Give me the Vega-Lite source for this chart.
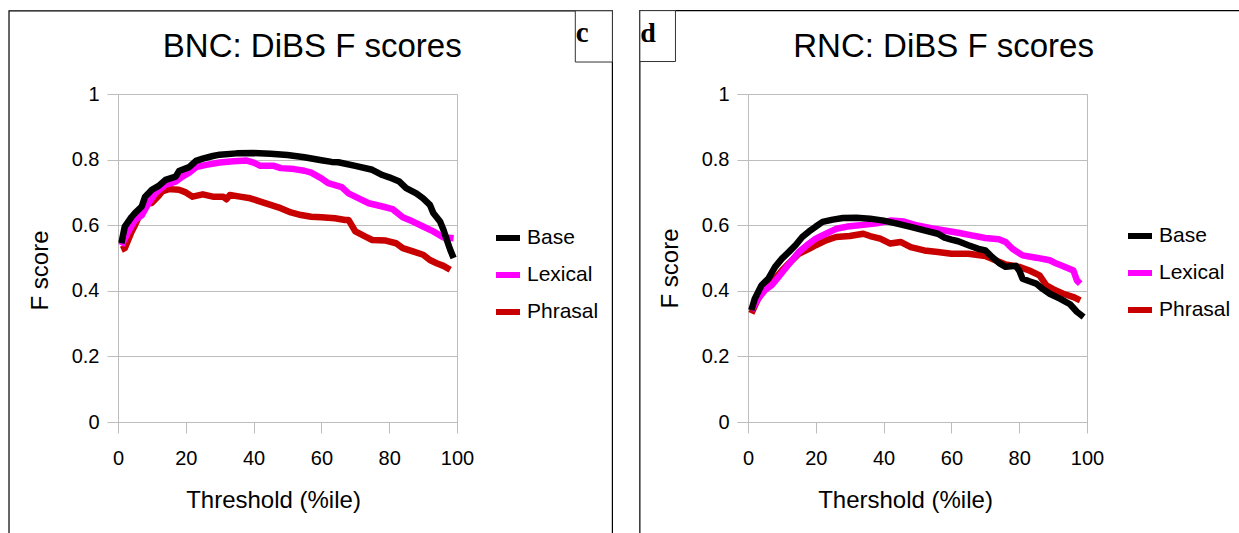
{
  "$schema": "https://vega.github.io/schema/vega-lite/v6.json",
  "autosize": {"type": "pad"},
  "padding": {"left": 7, "top": 9, "right": 0, "bottom": 0},
  "background": "white",
  "spacing": 291,
  "bounds": "flush",
  "datasets": {
    "bnc": [
      {"series": "Base", "threshold": 1, "fscore": 0.545},
      {"series": "Base", "threshold": 2, "fscore": 0.596},
      {"series": "Base", "threshold": 4, "fscore": 0.625},
      {"series": "Base", "threshold": 5, "fscore": 0.637},
      {"series": "Base", "threshold": 7, "fscore": 0.657},
      {"series": "Base", "threshold": 8, "fscore": 0.687},
      {"series": "Base", "threshold": 10, "fscore": 0.708},
      {"series": "Base", "threshold": 12, "fscore": 0.72},
      {"series": "Base", "threshold": 14, "fscore": 0.738},
      {"series": "Base", "threshold": 17, "fscore": 0.748},
      {"series": "Base", "threshold": 18, "fscore": 0.765},
      {"series": "Base", "threshold": 21, "fscore": 0.777},
      {"series": "Base", "threshold": 23, "fscore": 0.796},
      {"series": "Base", "threshold": 25, "fscore": 0.803},
      {"series": "Base", "threshold": 28, "fscore": 0.811},
      {"series": "Base", "threshold": 30, "fscore": 0.815},
      {"series": "Base", "threshold": 35, "fscore": 0.819},
      {"series": "Base", "threshold": 40, "fscore": 0.82},
      {"series": "Base", "threshold": 45, "fscore": 0.818},
      {"series": "Base", "threshold": 50, "fscore": 0.814},
      {"series": "Base", "threshold": 55, "fscore": 0.807},
      {"series": "Base", "threshold": 60, "fscore": 0.798},
      {"series": "Base", "threshold": 63, "fscore": 0.793},
      {"series": "Base", "threshold": 65, "fscore": 0.792},
      {"series": "Base", "threshold": 70, "fscore": 0.781},
      {"series": "Base", "threshold": 75, "fscore": 0.769},
      {"series": "Base", "threshold": 78, "fscore": 0.753},
      {"series": "Base", "threshold": 80, "fscore": 0.746},
      {"series": "Base", "threshold": 83, "fscore": 0.733},
      {"series": "Base", "threshold": 85, "fscore": 0.713},
      {"series": "Base", "threshold": 88, "fscore": 0.697},
      {"series": "Base", "threshold": 90, "fscore": 0.682},
      {"series": "Base", "threshold": 92, "fscore": 0.662},
      {"series": "Base", "threshold": 93, "fscore": 0.637},
      {"series": "Base", "threshold": 95, "fscore": 0.611},
      {"series": "Base", "threshold": 96, "fscore": 0.586},
      {"series": "Base", "threshold": 97, "fscore": 0.555},
      {"series": "Base", "threshold": 98, "fscore": 0.525},
      {"series": "Base", "threshold": 99, "fscore": 0.5},
      {"series": "Lexical", "threshold": 1, "fscore": 0.538},
      {"series": "Lexical", "threshold": 3, "fscore": 0.58},
      {"series": "Lexical", "threshold": 5, "fscore": 0.616},
      {"series": "Lexical", "threshold": 7, "fscore": 0.63},
      {"series": "Lexical", "threshold": 9, "fscore": 0.667},
      {"series": "Lexical", "threshold": 11, "fscore": 0.697},
      {"series": "Lexical", "threshold": 14, "fscore": 0.723},
      {"series": "Lexical", "threshold": 17, "fscore": 0.733},
      {"series": "Lexical", "threshold": 19, "fscore": 0.748},
      {"series": "Lexical", "threshold": 21, "fscore": 0.76},
      {"series": "Lexical", "threshold": 23, "fscore": 0.777},
      {"series": "Lexical", "threshold": 26, "fscore": 0.784},
      {"series": "Lexical", "threshold": 30, "fscore": 0.791},
      {"series": "Lexical", "threshold": 34, "fscore": 0.795},
      {"series": "Lexical", "threshold": 38, "fscore": 0.797},
      {"series": "Lexical", "threshold": 40, "fscore": 0.791},
      {"series": "Lexical", "threshold": 42, "fscore": 0.781},
      {"series": "Lexical", "threshold": 46, "fscore": 0.781},
      {"series": "Lexical", "threshold": 48, "fscore": 0.774},
      {"series": "Lexical", "threshold": 52, "fscore": 0.771},
      {"series": "Lexical", "threshold": 55, "fscore": 0.766},
      {"series": "Lexical", "threshold": 57, "fscore": 0.76},
      {"series": "Lexical", "threshold": 60, "fscore": 0.743},
      {"series": "Lexical", "threshold": 62, "fscore": 0.728},
      {"series": "Lexical", "threshold": 66, "fscore": 0.716},
      {"series": "Lexical", "threshold": 68, "fscore": 0.697},
      {"series": "Lexical", "threshold": 71, "fscore": 0.682},
      {"series": "Lexical", "threshold": 74, "fscore": 0.667},
      {"series": "Lexical", "threshold": 78, "fscore": 0.657},
      {"series": "Lexical", "threshold": 81, "fscore": 0.649},
      {"series": "Lexical", "threshold": 84, "fscore": 0.624},
      {"series": "Lexical", "threshold": 87, "fscore": 0.611},
      {"series": "Lexical", "threshold": 90, "fscore": 0.596},
      {"series": "Lexical", "threshold": 93, "fscore": 0.581},
      {"series": "Lexical", "threshold": 96, "fscore": 0.563},
      {"series": "Lexical", "threshold": 99, "fscore": 0.56},
      {"series": "Phrasal", "threshold": 1, "fscore": 0.525},
      {"series": "Phrasal", "threshold": 2, "fscore": 0.53},
      {"series": "Phrasal", "threshold": 4, "fscore": 0.58},
      {"series": "Phrasal", "threshold": 5, "fscore": 0.6},
      {"series": "Phrasal", "threshold": 7, "fscore": 0.645},
      {"series": "Phrasal", "threshold": 9, "fscore": 0.667},
      {"series": "Phrasal", "threshold": 10, "fscore": 0.668},
      {"series": "Phrasal", "threshold": 12, "fscore": 0.69},
      {"series": "Phrasal", "threshold": 13, "fscore": 0.703},
      {"series": "Phrasal", "threshold": 15, "fscore": 0.71},
      {"series": "Phrasal", "threshold": 18, "fscore": 0.708},
      {"series": "Phrasal", "threshold": 20, "fscore": 0.7},
      {"series": "Phrasal", "threshold": 22, "fscore": 0.687},
      {"series": "Phrasal", "threshold": 25, "fscore": 0.694},
      {"series": "Phrasal", "threshold": 28, "fscore": 0.687},
      {"series": "Phrasal", "threshold": 31, "fscore": 0.687},
      {"series": "Phrasal", "threshold": 32, "fscore": 0.679},
      {"series": "Phrasal", "threshold": 33, "fscore": 0.692},
      {"series": "Phrasal", "threshold": 36, "fscore": 0.687},
      {"series": "Phrasal", "threshold": 39, "fscore": 0.682},
      {"series": "Phrasal", "threshold": 42, "fscore": 0.672},
      {"series": "Phrasal", "threshold": 45, "fscore": 0.662},
      {"series": "Phrasal", "threshold": 48, "fscore": 0.652},
      {"series": "Phrasal", "threshold": 51, "fscore": 0.639},
      {"series": "Phrasal", "threshold": 54, "fscore": 0.631},
      {"series": "Phrasal", "threshold": 57, "fscore": 0.626},
      {"series": "Phrasal", "threshold": 60, "fscore": 0.624},
      {"series": "Phrasal", "threshold": 64, "fscore": 0.621},
      {"series": "Phrasal", "threshold": 67, "fscore": 0.616},
      {"series": "Phrasal", "threshold": 68, "fscore": 0.616},
      {"series": "Phrasal", "threshold": 70, "fscore": 0.581},
      {"series": "Phrasal", "threshold": 73, "fscore": 0.565},
      {"series": "Phrasal", "threshold": 75, "fscore": 0.555},
      {"series": "Phrasal", "threshold": 79, "fscore": 0.553},
      {"series": "Phrasal", "threshold": 82, "fscore": 0.545},
      {"series": "Phrasal", "threshold": 84, "fscore": 0.53},
      {"series": "Phrasal", "threshold": 87, "fscore": 0.52},
      {"series": "Phrasal", "threshold": 90, "fscore": 0.51},
      {"series": "Phrasal", "threshold": 92, "fscore": 0.494},
      {"series": "Phrasal", "threshold": 94, "fscore": 0.484},
      {"series": "Phrasal", "threshold": 96, "fscore": 0.476},
      {"series": "Phrasal", "threshold": 98, "fscore": 0.464}
    ],
    "rnc": [
      {"series": "Base", "threshold": 1, "fscore": 0.341},
      {"series": "Base", "threshold": 2, "fscore": 0.376},
      {"series": "Base", "threshold": 4, "fscore": 0.417},
      {"series": "Base", "threshold": 6, "fscore": 0.437},
      {"series": "Base", "threshold": 8, "fscore": 0.473},
      {"series": "Base", "threshold": 10, "fscore": 0.498},
      {"series": "Base", "threshold": 12, "fscore": 0.518},
      {"series": "Base", "threshold": 14, "fscore": 0.539},
      {"series": "Base", "threshold": 16, "fscore": 0.564},
      {"series": "Base", "threshold": 18, "fscore": 0.581},
      {"series": "Base", "threshold": 20, "fscore": 0.596},
      {"series": "Base", "threshold": 22, "fscore": 0.61},
      {"series": "Base", "threshold": 25, "fscore": 0.617},
      {"series": "Base", "threshold": 28, "fscore": 0.622},
      {"series": "Base", "threshold": 32, "fscore": 0.623},
      {"series": "Base", "threshold": 36, "fscore": 0.62},
      {"series": "Base", "threshold": 40, "fscore": 0.614},
      {"series": "Base", "threshold": 44, "fscore": 0.605},
      {"series": "Base", "threshold": 48, "fscore": 0.595},
      {"series": "Base", "threshold": 52, "fscore": 0.584},
      {"series": "Base", "threshold": 56, "fscore": 0.574},
      {"series": "Base", "threshold": 58, "fscore": 0.562},
      {"series": "Base", "threshold": 60, "fscore": 0.556},
      {"series": "Base", "threshold": 62, "fscore": 0.551},
      {"series": "Base", "threshold": 65, "fscore": 0.539},
      {"series": "Base", "threshold": 68, "fscore": 0.528},
      {"series": "Base", "threshold": 70, "fscore": 0.523},
      {"series": "Base", "threshold": 72, "fscore": 0.503},
      {"series": "Base", "threshold": 74, "fscore": 0.485},
      {"series": "Base", "threshold": 76, "fscore": 0.473},
      {"series": "Base", "threshold": 79, "fscore": 0.476},
      {"series": "Base", "threshold": 80, "fscore": 0.462},
      {"series": "Base", "threshold": 81, "fscore": 0.437},
      {"series": "Base", "threshold": 83, "fscore": 0.429},
      {"series": "Base", "threshold": 85, "fscore": 0.422},
      {"series": "Base", "threshold": 87, "fscore": 0.405},
      {"series": "Base", "threshold": 89, "fscore": 0.391},
      {"series": "Base", "threshold": 92, "fscore": 0.376},
      {"series": "Base", "threshold": 95, "fscore": 0.359},
      {"series": "Base", "threshold": 97, "fscore": 0.336},
      {"series": "Base", "threshold": 99, "fscore": 0.32},
      {"series": "Lexical", "threshold": 1, "fscore": 0.34},
      {"series": "Lexical", "threshold": 3, "fscore": 0.376},
      {"series": "Lexical", "threshold": 5, "fscore": 0.402},
      {"series": "Lexical", "threshold": 7, "fscore": 0.417},
      {"series": "Lexical", "threshold": 9, "fscore": 0.442},
      {"series": "Lexical", "threshold": 11, "fscore": 0.468},
      {"series": "Lexical", "threshold": 13, "fscore": 0.493},
      {"series": "Lexical", "threshold": 15, "fscore": 0.518},
      {"series": "Lexical", "threshold": 18, "fscore": 0.544},
      {"series": "Lexical", "threshold": 20, "fscore": 0.559},
      {"series": "Lexical", "threshold": 23, "fscore": 0.574},
      {"series": "Lexical", "threshold": 26, "fscore": 0.589},
      {"series": "Lexical", "threshold": 30, "fscore": 0.597},
      {"series": "Lexical", "threshold": 34, "fscore": 0.601},
      {"series": "Lexical", "threshold": 38, "fscore": 0.606},
      {"series": "Lexical", "threshold": 42, "fscore": 0.614},
      {"series": "Lexical", "threshold": 46, "fscore": 0.611},
      {"series": "Lexical", "threshold": 50, "fscore": 0.599},
      {"series": "Lexical", "threshold": 54, "fscore": 0.591},
      {"series": "Lexical", "threshold": 58, "fscore": 0.584},
      {"series": "Lexical", "threshold": 62, "fscore": 0.577},
      {"series": "Lexical", "threshold": 66, "fscore": 0.569},
      {"series": "Lexical", "threshold": 70, "fscore": 0.561},
      {"series": "Lexical", "threshold": 74, "fscore": 0.557},
      {"series": "Lexical", "threshold": 76, "fscore": 0.549},
      {"series": "Lexical", "threshold": 78, "fscore": 0.528},
      {"series": "Lexical", "threshold": 81, "fscore": 0.508},
      {"series": "Lexical", "threshold": 85, "fscore": 0.501},
      {"series": "Lexical", "threshold": 89, "fscore": 0.493},
      {"series": "Lexical", "threshold": 91, "fscore": 0.483},
      {"series": "Lexical", "threshold": 93, "fscore": 0.475},
      {"series": "Lexical", "threshold": 96, "fscore": 0.462},
      {"series": "Lexical", "threshold": 97, "fscore": 0.432},
      {"series": "Lexical", "threshold": 98, "fscore": 0.422},
      {"series": "Phrasal", "threshold": 1, "fscore": 0.331},
      {"series": "Phrasal", "threshold": 3, "fscore": 0.376},
      {"series": "Phrasal", "threshold": 5, "fscore": 0.409},
      {"series": "Phrasal", "threshold": 8, "fscore": 0.437},
      {"series": "Phrasal", "threshold": 10, "fscore": 0.462},
      {"series": "Phrasal", "threshold": 12, "fscore": 0.483},
      {"series": "Phrasal", "threshold": 15, "fscore": 0.513},
      {"series": "Phrasal", "threshold": 18, "fscore": 0.528},
      {"series": "Phrasal", "threshold": 20, "fscore": 0.539},
      {"series": "Phrasal", "threshold": 23, "fscore": 0.554},
      {"series": "Phrasal", "threshold": 26, "fscore": 0.564},
      {"series": "Phrasal", "threshold": 30, "fscore": 0.567},
      {"series": "Phrasal", "threshold": 34, "fscore": 0.574},
      {"series": "Phrasal", "threshold": 36, "fscore": 0.567},
      {"series": "Phrasal", "threshold": 39, "fscore": 0.559},
      {"series": "Phrasal", "threshold": 42, "fscore": 0.544},
      {"series": "Phrasal", "threshold": 45, "fscore": 0.549},
      {"series": "Phrasal", "threshold": 48, "fscore": 0.533},
      {"series": "Phrasal", "threshold": 52, "fscore": 0.523},
      {"series": "Phrasal", "threshold": 56, "fscore": 0.518},
      {"series": "Phrasal", "threshold": 60, "fscore": 0.513},
      {"series": "Phrasal", "threshold": 65, "fscore": 0.513},
      {"series": "Phrasal", "threshold": 70, "fscore": 0.506},
      {"series": "Phrasal", "threshold": 73, "fscore": 0.493},
      {"series": "Phrasal", "threshold": 76, "fscore": 0.48},
      {"series": "Phrasal", "threshold": 80, "fscore": 0.473},
      {"series": "Phrasal", "threshold": 83, "fscore": 0.462},
      {"series": "Phrasal", "threshold": 86, "fscore": 0.447},
      {"series": "Phrasal", "threshold": 88, "fscore": 0.417},
      {"series": "Phrasal", "threshold": 90, "fscore": 0.405},
      {"series": "Phrasal", "threshold": 93, "fscore": 0.391},
      {"series": "Phrasal", "threshold": 96, "fscore": 0.381},
      {"series": "Phrasal", "threshold": 98, "fscore": 0.371}
    ]
  },
  "hconcat": [
    {
      "width": 339,
      "height": 328,
      "layer": [
        {
          "data": {"values": [{}]},
          "mark": {"type": "rect", "fill": "transparent", "stroke": "#000000", "strokeWidth": 1.2, "clip": false},
          "encoding": {
            "x": {"datum": -32.15, "type": "quantitative"},
            "x2": {"datum": 145.84},
            "y": {"datum": 1.2537, "type": "quantitative"},
            "y2": {"datum": -0.6}
          }
        },
        {
          "data": {"values": [{}]},
          "mark": {"type": "rect", "fill": "white", "stroke": "#333333", "strokeWidth": 1, "clip": false},
          "encoding": {
            "x": {"datum": 134.9, "type": "quantitative"},
            "x2": {"datum": 145.84},
            "y": {"datum": 1.2537, "type": "quantitative"},
            "y2": {"datum": 1.0975}
          }
        },
        {
          "data": {"values": [{}]},
          "mark": {"type": "text", "text": "c", "font": "Liberation Serif", "fontWeight": "bold", "fontSize": 29, "align": "left", "baseline": "alphabetic", "color": "#000000", "clip": false},
          "encoding": {
            "x": {"datum": 135.0, "type": "quantitative"},
            "y": {"datum": 1.1584, "type": "quantitative"}
          }
        },
        {
          "data": {"values": [{}]},
          "mark": {"type": "text", "text": "BNC: DiBS F scores", "font": "Liberation Sans", "fontSize": 33, "align": "center", "baseline": "alphabetic", "color": "#000000", "clip": false},
          "encoding": {
            "x": {"datum": 57.3, "type": "quantitative"},
            "y": {"datum": 1.1127, "type": "quantitative"}
          }
        },
        {
          "data": {"name": "bnc"},
          "transform": [{"filter": "datum.series === 'Phrasal'"}],
          "mark": {"type": "line", "strokeWidth": 6.5, "strokeJoin": "round"},
          "encoding": {
            "x": {"field": "threshold", "type": "quantitative", "scale": {"domain": [0, 100], "nice": false, "zero": false},
              "axis": {"values": [0, 20, 40, 60, 80, 100], "grid": false, "title": "Threshold (%ile)", "titleX": 155, "titleY": 85, "titleBaseline": "alphabetic", "titleAlign": "center", "labelPadding": 15}},
            "y": {"field": "fscore", "type": "quantitative", "scale": {"domain": [0, 1], "nice": false},
              "axis": {"values": [0, 0.2, 0.4, 0.6, 0.8, 1], "format": "~g", "grid": true, "title": "F score", "titleX": -78, "titleY": 176, "titleAlign": "center", "titleBaseline": "middle", "labelPadding": 8}},
            "color": {"field": "series", "type": "nominal", "scale": {"domain": ["Base", "Lexical", "Phrasal"], "range": ["#000000", "#FF00FF", "#C80000"]},
              "legend": {"orient": "none", "legendX": 375, "legendY": 129}}
          }
        },
        {
          "data": {"name": "bnc"},
          "transform": [{"filter": "datum.series === 'Lexical'"}],
          "mark": {"type": "line", "strokeWidth": 6.5, "strokeJoin": "round"},
          "encoding": {
            "x": {"field": "threshold", "type": "quantitative"},
            "y": {"field": "fscore", "type": "quantitative"},
            "color": {"field": "series", "type": "nominal"}
          }
        },
        {
          "data": {"name": "bnc"},
          "transform": [{"filter": "datum.series === 'Base'"}],
          "mark": {"type": "line", "strokeWidth": 6.5, "strokeJoin": "round"},
          "encoding": {
            "x": {"field": "threshold", "type": "quantitative"},
            "y": {"field": "fscore", "type": "quantitative"},
            "color": {"field": "series", "type": "nominal"}
          }
        }
      ]
    },
    {
      "width": 339,
      "height": 328,
      "layer": [
        {
          "data": {"values": [{}]},
          "mark": {"type": "rect", "fill": "transparent", "stroke": "#000000", "strokeWidth": 1.2, "clip": false},
          "encoding": {
            "x": {"datum": -31.9, "type": "quantitative"},
            "x2": {"datum": 150},
            "y": {"datum": 1.2542, "type": "quantitative"},
            "y2": {"datum": -0.6}
          }
        },
        {
          "data": {"values": [{}]},
          "mark": {"type": "rect", "fill": "white", "stroke": "#333333", "strokeWidth": 1, "clip": false},
          "encoding": {
            "x": {"datum": -31.9, "type": "quantitative"},
            "x2": {"datum": -21.4},
            "y": {"datum": 1.2542, "type": "quantitative"},
            "y2": {"datum": 1.099}
          }
        },
        {
          "data": {"values": [{}]},
          "mark": {"type": "text", "text": "d", "font": "Liberation Serif", "fontWeight": "bold", "fontSize": 28, "align": "left", "baseline": "alphabetic", "color": "#000000", "clip": false},
          "encoding": {
            "x": {"datum": -31.76, "type": "quantitative"},
            "y": {"datum": 1.1577, "type": "quantitative"}
          }
        },
        {
          "data": {"values": [{}]},
          "mark": {"type": "text", "text": "RNC: DiBS F scores", "font": "Liberation Sans", "fontSize": 33, "align": "center", "baseline": "alphabetic", "color": "#000000", "clip": false},
          "encoding": {
            "x": {"datum": 57.7, "type": "quantitative"},
            "y": {"datum": 1.112, "type": "quantitative"}
          }
        },
        {
          "data": {"name": "rnc"},
          "transform": [{"filter": "datum.series === 'Phrasal'"}],
          "mark": {"type": "line", "strokeWidth": 6.5, "strokeJoin": "round"},
          "encoding": {
            "x": {"field": "threshold", "type": "quantitative", "scale": {"domain": [0, 100], "nice": false, "zero": false},
              "axis": {"values": [0, 20, 40, 60, 80, 100], "grid": false, "title": "Thershold (%ile)", "titleX": 157, "titleY": 85, "titleBaseline": "alphabetic", "titleAlign": "center", "labelPadding": 15}},
            "y": {"field": "fscore", "type": "quantitative", "scale": {"domain": [0, 1], "nice": false},
              "axis": {"values": [0, 0.2, 0.4, 0.6, 0.8, 1], "format": "~g", "grid": true, "title": "F score", "titleX": -78, "titleY": 174, "titleAlign": "center", "titleBaseline": "middle", "labelPadding": 8}},
            "color": {"field": "series", "type": "nominal", "scale": {"domain": ["Base", "Lexical", "Phrasal"], "range": ["#000000", "#FF00FF", "#C80000"]},
              "legend": {"orient": "none", "legendX": 377, "legendY": 127}}
          }
        },
        {
          "data": {"name": "rnc"},
          "transform": [{"filter": "datum.series === 'Lexical'"}],
          "mark": {"type": "line", "strokeWidth": 6.5, "strokeJoin": "round"},
          "encoding": {
            "x": {"field": "threshold", "type": "quantitative"},
            "y": {"field": "fscore", "type": "quantitative"},
            "color": {"field": "series", "type": "nominal"}
          }
        },
        {
          "data": {"name": "rnc"},
          "transform": [{"filter": "datum.series === 'Base'"}],
          "mark": {"type": "line", "strokeWidth": 6.5, "strokeJoin": "round"},
          "encoding": {
            "x": {"field": "threshold", "type": "quantitative"},
            "y": {"field": "fscore", "type": "quantitative"},
            "color": {"field": "series", "type": "nominal"}
          }
        }
      ]
    }
  ],
  "resolve": {"scale": {"color": "independent"}, "legend": {"color": "independent"}},
  "config": {
    "view": {"stroke": "#BDBDBD", "strokeWidth": 1},
    "axis": {
      "labelFont": "Liberation Sans", "titleFont": "Liberation Sans",
      "labelFontSize": 20, "titleFontSize": 24, "titleFontWeight": "normal",
      "labelColor": "#000000", "titleColor": "#000000",
      "domainColor": "#BDBDBD", "tickColor": "#BDBDBD", "gridColor": "#BDBDBD",
      "domainWidth": 1, "tickWidth": 1, "gridWidth": 1,
      "tickSize": 11, "labelFlush": false, "labelOverlap": false, "titlePadding": 0
    },
    "legend": {
      "title": null, "symbolType": "stroke", "symbolSize": 576, "symbolStrokeWidth": 6,
      "labelFont": "Liberation Sans", "labelFontSize": 21, "labelColor": "#000000",
      "labelOffset": 4, "rowPadding": 10, "padding": 0
    }
  }
}
